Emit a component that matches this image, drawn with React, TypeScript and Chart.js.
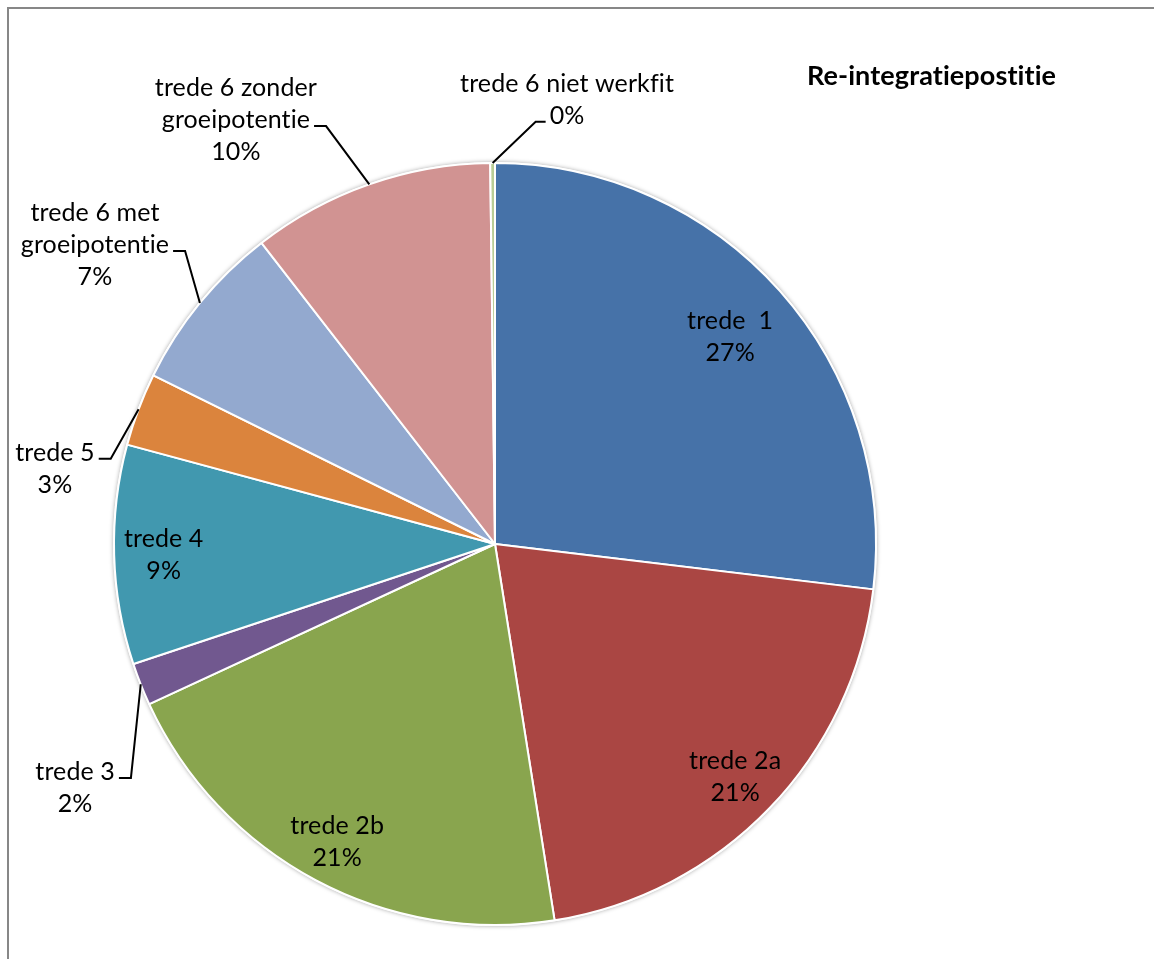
import { useEffect, useRef } from "react";
import { Chart, registerables } from "chart.js";

Chart.register(...registerables);

// ---- data ----
const categories = [
  "trede  1",
  "trede 2a",
  "trede 2b",
  "trede 3",
  "trede 4",
  "trede 5",
  "trede 6 met groeipotentie",
  "trede 6 zonder groeipotentie",
  "trede 6 niet werkfit",
];
const categoryLines = [
  ["trede  1"],
  ["trede 2a"],
  ["trede 2b"],
  ["trede 3"],
  ["trede 4"],
  ["trede 5"],
  ["trede 6 met", "groeipotentie"],
  ["trede 6 zonder", "groeipotentie"],
  ["trede 6 niet werkfit"],
];
const values = [26.9, 20.6, 20.6, 1.8, 9.3, 3.1, 7.2, 10.3, 0.2];
const sliceColors = [
  "#4672A8",
  "#AA4643",
  "#89A54E",
  "#71588F",
  "#4198AF",
  "#DB843D",
  "#93A9CF",
  "#D19392",
  "#B9CD96",
];
const chartTitle = "Re-integratiepostitie";

// ---- label layout (styling, not data) ----
type Layout =
  | { kind: "in"; f: number }
  | { kind: "out"; fx: number; fy: number; line: number; side: "left" | "right" };
const labelLayout: Layout[] = [
  { kind: "in", f: 0.825 },
  { kind: "in", f: 0.875 },
  { kind: "in", f: 0.88 },
  { kind: "out", fx: -1.102, fy: 0.635, line: 0, side: "right" },
  { kind: "in", f: 0.87 },
  { kind: "out", fx: -1.155, fy: -0.203, line: 0, side: "right" },
  { kind: "out", fx: -1.05, fy: -0.79, line: 1, side: "right" },
  { kind: "out", fx: -0.68, fy: -1.118, line: 1, side: "right" },
  { kind: "out", fx: 0.189, fy: -1.171, line: 1, side: "left" },
];

const FONT = "Lato, 'Open Sans', sans-serif";
const LABEL_SIZE = 25;
const LINE_H = 32;
const TEXT_DY = 2;

const shadowPlugin = {
  id: "pieShadow",
  beforeDatasetsDraw(chart: any) {
    const meta = chart.getDatasetMeta(0);
    const a = meta.data[0];
    if (!a) return;
    const { x, y, outerRadius } = a.getProps(["x", "y", "outerRadius"], true);
    const ctx = chart.ctx;
    ctx.save();
    ctx.beginPath();
    ctx.arc(x, y, outerRadius + 1, 0, Math.PI * 2);
    ctx.shadowColor = "rgba(0,0,0,0.35)";
    ctx.shadowBlur = 4;
    ctx.fillStyle = "#ffffff";
    ctx.fill();
    ctx.restore();
  },
};

const labelPlugin = {
  id: "pieLabels",
  afterDatasetsDraw(chart: any) {
    const ctx = chart.ctx;
    const meta = chart.getDatasetMeta(0);
    const data = chart.data.datasets[0].data as number[];
    const total = data.reduce((s, v) => s + v, 0);
    ctx.save();
    ctx.font = `${LABEL_SIZE}px ${FONT}`;
    try {
      (ctx as any).letterSpacing = "0.1px";
    } catch (e) {}
    ctx.fillStyle = "#000";
    ctx.textAlign = "center";
    ctx.textBaseline = "middle";
    ctx.strokeStyle = "#000";
    ctx.lineWidth = 2;
    meta.data.forEach((arc: any, i: number) => {
      const { x, y, startAngle, endAngle, outerRadius } = arc.getProps(
        ["x", "y", "startAngle", "endAngle", "outerRadius"],
        true
      );
      const R = outerRadius;
      const mid = (startAngle + endAngle) / 2;
      const pct = Math.round((data[i] / total) * 100) + "%";
      const lines = [...categoryLines[i], pct];
      const L = labelLayout[i];
      let cx: number, cy: number;
      if (L.kind === "in") {
        cx = x + Math.cos(mid) * R * L.f;
        cy = y + Math.sin(mid) * R * L.f;
      } else {
        cx = x + R * L.fx;
        cy = y + R * L.fy;
      }
      const top = cy - ((lines.length - 1) * LINE_H) / 2;
      lines.forEach((t, k) => ctx.fillText(t, cx, top + k * LINE_H + TEXT_DY));
      if (L.kind === "out") {
        const w = ctx.measureText(lines[L.line]).width;
        const ay = top + L.line * LINE_H + 8;
        let ax: number, ex: number;
        if (L.side === "right") {
          ax = cx + w / 2 + 4;
          ex = ax + 12;
        } else {
          ax = cx - w / 2 - 4;
          ex = ax - 10;
        }
        const px = x + Math.cos(mid) * R;
        const py = y + Math.sin(mid) * R;
        ctx.beginPath();
        ctx.moveTo(px, py);
        ctx.lineTo(ex, ay);
        ctx.lineTo(ax, ay);
        ctx.stroke();
      }
    });
    // title
    ctx.font = `bold 27px ${FONT}`;
    ctx.textAlign = "center";
    ctx.fillText(chartTitle, 923.5, 68);
    ctx.restore();
  },
};

export default function App() {
  const ref = useRef<HTMLCanvasElement | null>(null);
  useEffect(() => {
    if (!ref.current) return;
    const chart = new Chart(ref.current, {
      type: "pie",
      data: {
        labels: categories,
        datasets: [
          {
            data: values,
            backgroundColor: sliceColors,
            borderColor: "#ffffff",
            borderWidth: 2,
          },
        ],
      },
      options: {
        responsive: false,
        animation: false,
        layout: { padding: { left: 105, top: 154, right: 277, bottom: 33 } },
        plugins: {
          legend: { display: false },
          tooltip: { enabled: false },
          title: { display: false },
        },
      },
      plugins: [shadowPlugin, labelPlugin],
    });
    return () => chart.destroy();
  }, []);
  return (
    <div
      style={{
        position: "fixed",
        left: 0,
        top: 0,
        width: 1154,
        height: 959,
        overflow: "hidden",
        background: "#fff",
      }}
    >
      <div
        style={{
          position: "absolute",
          left: 7,
          top: 7,
          width: 1200,
          height: 1000,
          borderLeft: "2px solid #878787",
          borderTop: "2px solid #878787",
        }}
      />
      <canvas
        ref={ref}
        width={1146}
        height={951}
        style={{ position: "absolute", left: 8, top: 8, width: 1146, height: 951 }}
      />
    </div>
  );
}
